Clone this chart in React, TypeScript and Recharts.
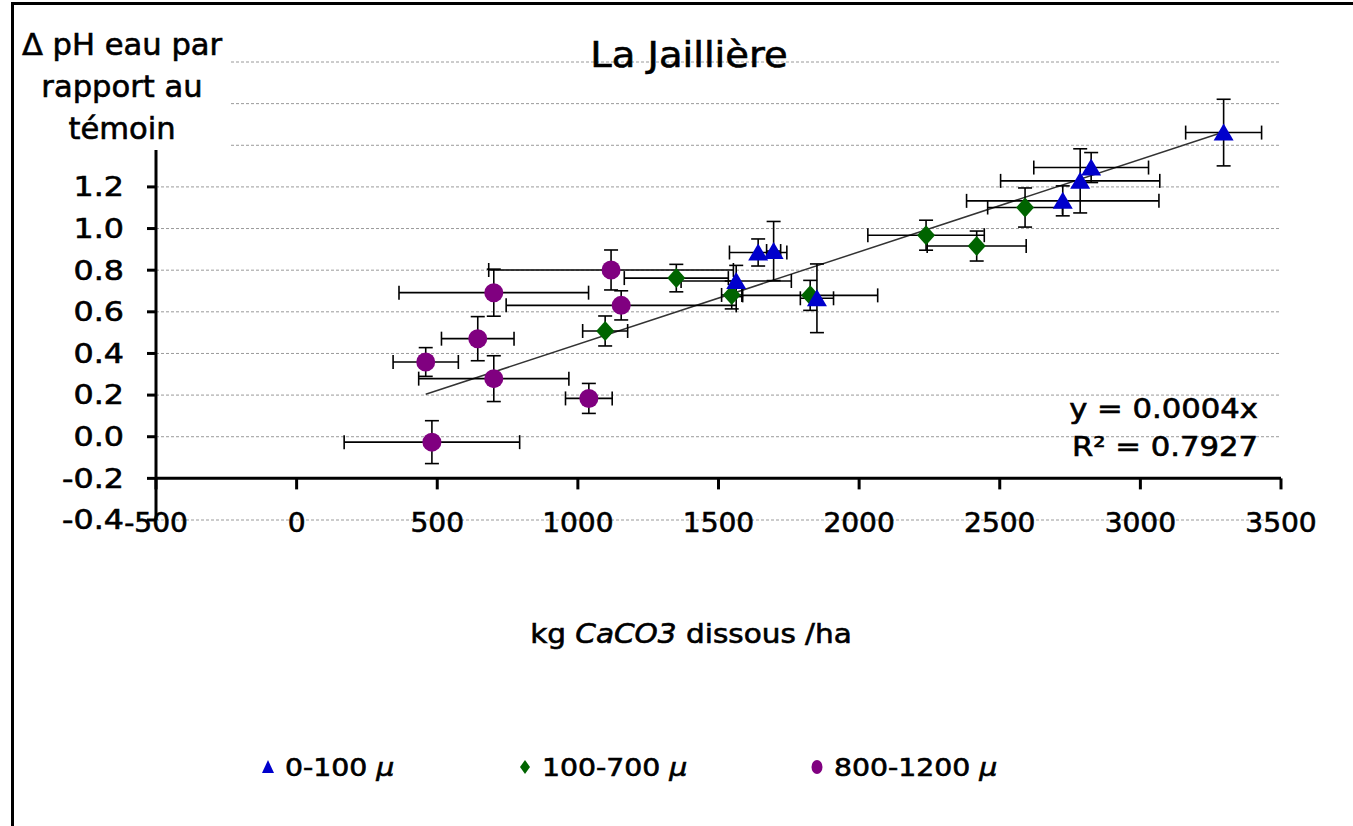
import React from 'react';
import { ScatterChart, Scatter, XAxis, YAxis, CartesianGrid, ErrorBar, ReferenceLine } from 'recharts';

// ---- data ----
const seriesNames = ['0-100 \u00b5', '100-700 \u00b5', '800-1200 \u00b5'];
const seriesColors = ['#0000CC', '#006400', '#800080'];

const blueX = [3296, 2825, 2786, 2724, 1641, 1696, 1563, 1850];
const blueY = [1.461, 1.293, 1.229, 1.133, 0.885, 0.892, 0.748, 0.665];
const blueErrX = [135, 204, 283, 342, 102, 25, 196, 59];
const blueErrY = [0.16, 0.072, 0.154, 0.072, 0.065, 0.142, 0.075, 0.165];

const greenX = [1350, 1097, 1547, 1826, 2238, 2418, 2590];
const greenY = [0.762, 0.508, 0.681, 0.679, 0.968, 0.916, 1.101];
const greenErrX = [185, 80, 36, 240, 207, 176, 133];
const greenErrY = [0.066, 0.072, 0.067, 0.072, 0.072, 0.072, 0.094];

const purpleX = [1118, 701, 644, 459, 701, 1039, 481, 1154];
const purpleY = [0.801, 0.692, 0.471, 0.359, 0.279, 0.184, -0.026, 0.631];
const purpleErrX = [435, 337, 129, 116, 267, 83, 312, 409];
const purpleErrY = [0.096, 0.113, 0.106, 0.069, 0.11, 0.072, 0.103, 0.07];

const xTicks = [-500, 0, 500, 1000, 1500, 2000, 2500, 3000, 3500];
const yTicks = [-0.4, -0.2, 0.0, 0.2, 0.4, 0.6, 0.8, 1.0, 1.2, 1.4, 1.6, 1.8];
const yHiddenAbove = 1.2; // labels above this are covered by the axis-title box

const trendSlope = 0.000444;
const equationLines = ['y = 0.0004x', 'R\u00b2 = 0.7927'];
const chartTitle = 'La Jailli\u00e8re';
const yTitleLines = ['\u0394 pH eau par', 'rapport au', 't\u00e9moin'];
const xAxisCrossY = -0.2;
const xTickLen = 0.053;

const build = (xs: number[], ys: number[], exs: number[], eys: number[]) =>
  xs.map((x, i) => ({ x, y: ys[i], ex: exs[i], ey: eys[i] }));

const blueData = build(blueX, blueY, blueErrX, blueErrY);
const greenData = build(greenX, greenY, greenErrX, greenErrY);
const purpleData = build(purpleX, purpleY, purpleErrX, purpleErrY);

const allX = [...blueX, ...greenX, ...purpleX];
const trendMin = Math.min(...allX);
const trendMax = Math.max(...allX);

const FONT = 'DejaVu Sans';
const TS = { stroke: '#000', strokeWidth: 0.6 };

const TriangleShape = (p: any) => {
  const { cx, cy } = p;
  if (cx == null || cy == null) return null;
  return <polygon points={`${cx},${cy - 9} ${cx + 10},${cy + 8} ${cx - 10},${cy + 8}`} fill={seriesColors[0]} />;
};
const DiamondShape = (p: any) => {
  const { cx, cy } = p;
  if (cx == null || cy == null) return null;
  return <polygon points={`${cx},${cy - 10} ${cx + 9},${cy} ${cx},${cy + 10} ${cx - 9},${cy}`} fill={seriesColors[1]} />;
};
const CircleShape = (p: any) => {
  const { cx, cy } = p;
  if (cx == null || cy == null) return null;
  return <circle cx={cx} cy={cy} r={9.5} fill={seriesColors[2]} />;
};

const YTick = (p: any) => {
  const { x, y, payload } = p;
  if (Number(payload.value) > yHiddenAbove + 1e-9) return <g />;
  return (
    <text transform={`translate(${x},${y}) scale(1.22,1)`} textAnchor="end" dy="0.36em" fontSize={26} fontFamily={FONT} fill="#000" {...TS}>
      {Number(payload.value).toFixed(1)}
    </text>
  );
};
const XTick = (p: any) => {
  const { x, y, payload } = p;
  return (
    <text transform={`translate(${x},${y}) scale(1.08,1)`} textAnchor="middle" dy="0.36em" fontSize={26} fontFamily={FONT} fill="#000" {...TS}>
      {payload.value}
    </text>
  );
};

const ST = ({ x, y, sx = 1, anchor = 'middle', size, children }: any) => (
  <text transform={`translate(${x},${y}) scale(${sx},1)`} textAnchor={anchor} fontSize={size} fontFamily={FONT} fill="#000" {...TS}>
    {children}
  </text>
);

const legendX = [268, 525, 817];

export default function App() {
  return (
    <div style={{ position: 'absolute', left: 0, top: 0, width: 1353, height: 826, background: '#fff', overflow: 'hidden' }}>
      <ScatterChart width={1353} height={826} margin={{ top: 62, right: 72, bottom: 266, left: 0 }}>
        <CartesianGrid horizontal vertical={false} stroke="#9a9a9a" strokeDasharray="3 2" strokeWidth={1} />
        <XAxis
          type="number"
          dataKey="x"
          domain={[-500, 3500]}
          ticks={xTicks}
          height={40}
          axisLine={false}
          tickLine={false}
          tickSize={0}
          tickMargin={3}
          tick={<XTick />}
          interval={0}
          allowDataOverflow
        />
        <YAxis
          type="number"
          dataKey="y"
          domain={[-0.4, 1.8]}
          ticks={yTicks}
          width={156}
          axisLine={{ stroke: '#000', strokeWidth: 3 }}
          tickLine={{ stroke: '#000', strokeWidth: 3 }}
          tickSize={9}
          tickMargin={23}
          tick={<YTick />}
          interval={0}
          allowDataOverflow
        />
        <ReferenceLine y={xAxisCrossY} stroke="#000" strokeWidth={3} />
        {xTicks.map((t) => (
          <ReferenceLine
            key={t}
            segment={[{ x: t, y: xAxisCrossY }, { x: t, y: xAxisCrossY - xTickLen }]}
            stroke="#000"
            strokeWidth={3}
          />
        ))}
        <ReferenceLine
          segment={[{ x: trendMin, y: trendSlope * trendMin }, { x: trendMax, y: trendSlope * trendMax }]}
          stroke="#333"
          strokeWidth={1.5}
        />
        <Scatter name={seriesNames[2]} data={purpleData} fill={seriesColors[2]} shape={<CircleShape />} isAnimationActive={false}>
          <ErrorBar dataKey="ex" direction="x" width={7} stroke="#000" strokeWidth={1.6} />
          <ErrorBar dataKey="ey" direction="y" width={7} stroke="#000" strokeWidth={1.6} />
        </Scatter>
        <Scatter name={seriesNames[1]} data={greenData} fill={seriesColors[1]} shape={<DiamondShape />} isAnimationActive={false}>
          <ErrorBar dataKey="ex" direction="x" width={7} stroke="#000" strokeWidth={1.6} />
          <ErrorBar dataKey="ey" direction="y" width={7} stroke="#000" strokeWidth={1.6} />
        </Scatter>
        <Scatter name={seriesNames[0]} data={blueData} fill={seriesColors[0]} shape={<TriangleShape />} isAnimationActive={false}>
          <ErrorBar dataKey="ex" direction="x" width={7} stroke="#000" strokeWidth={1.6} />
          <ErrorBar dataKey="ey" direction="y" width={7} stroke="#000" strokeWidth={1.6} />
        </Scatter>
      </ScatterChart>

      <svg width={1353} height={826} style={{ position: 'absolute', left: 0, top: 0, pointerEvents: 'none' }}>
        {/* y-axis title box */}
        <rect x={15} y={6} width={216} height={144} fill="#fff" />
        {yTitleLines.map((l, i) => (
          <ST key={i} x={122} y={55 + i * 42} size={30} sx={1.02}>{l}</ST>
        ))}
        <ST x={689} y={67} size={35} sx={1.1}>{chartTitle}</ST>
        {equationLines.map((l, i) => (
          <ST key={i} x={1258} y={418 + i * 38} size={26} sx={1.18} anchor="end">{l}</ST>
        ))}
        <text transform="translate(691,643) scale(1.135,1)" textAnchor="middle" fontSize={26} fontFamily={FONT} fill="#000" {...TS}>
          kg <tspan fontStyle="italic">CaCO3</tspan> dissous /ha
        </text>
        {/* legend */}
        {seriesNames.map((name, i) => {
          const cx = legendX[i];
          const cy = 767;
          const parts = name.split(' ');
          let marker;
          if (i === 0) marker = <polygon points={`${cx},${cy - 7} ${cx + 6},${cy + 6} ${cx - 6},${cy + 6}`} fill={seriesColors[0]} />;
          else if (i === 1) marker = <polygon points={`${cx},${cy - 7} ${cx + 5},${cy} ${cx},${cy + 7} ${cx - 5},${cy}`} fill={seriesColors[1]} />;
          else marker = <ellipse cx={cx} cy={cy} rx={5.5} ry={7} fill={seriesColors[2]} />;
          return (
            <g key={i}>
              {marker}
              <text transform={`translate(${cx + 17},${cy + 9}) scale(1.18,1)`} fontSize={24} fontFamily={FONT} fill="#000" {...TS}>
                {parts[0]} <tspan fontStyle="italic">{parts[1]}</tspan>
              </text>
            </g>
          );
        })}
      </svg>
      {/* frame */}
      <div style={{ position: 'absolute', left: 11, top: 2, right: -10, bottom: -10, borderLeft: '3px solid #000', borderTop: '3px solid #000', pointerEvents: 'none' }} />
    </div>
  );
}
